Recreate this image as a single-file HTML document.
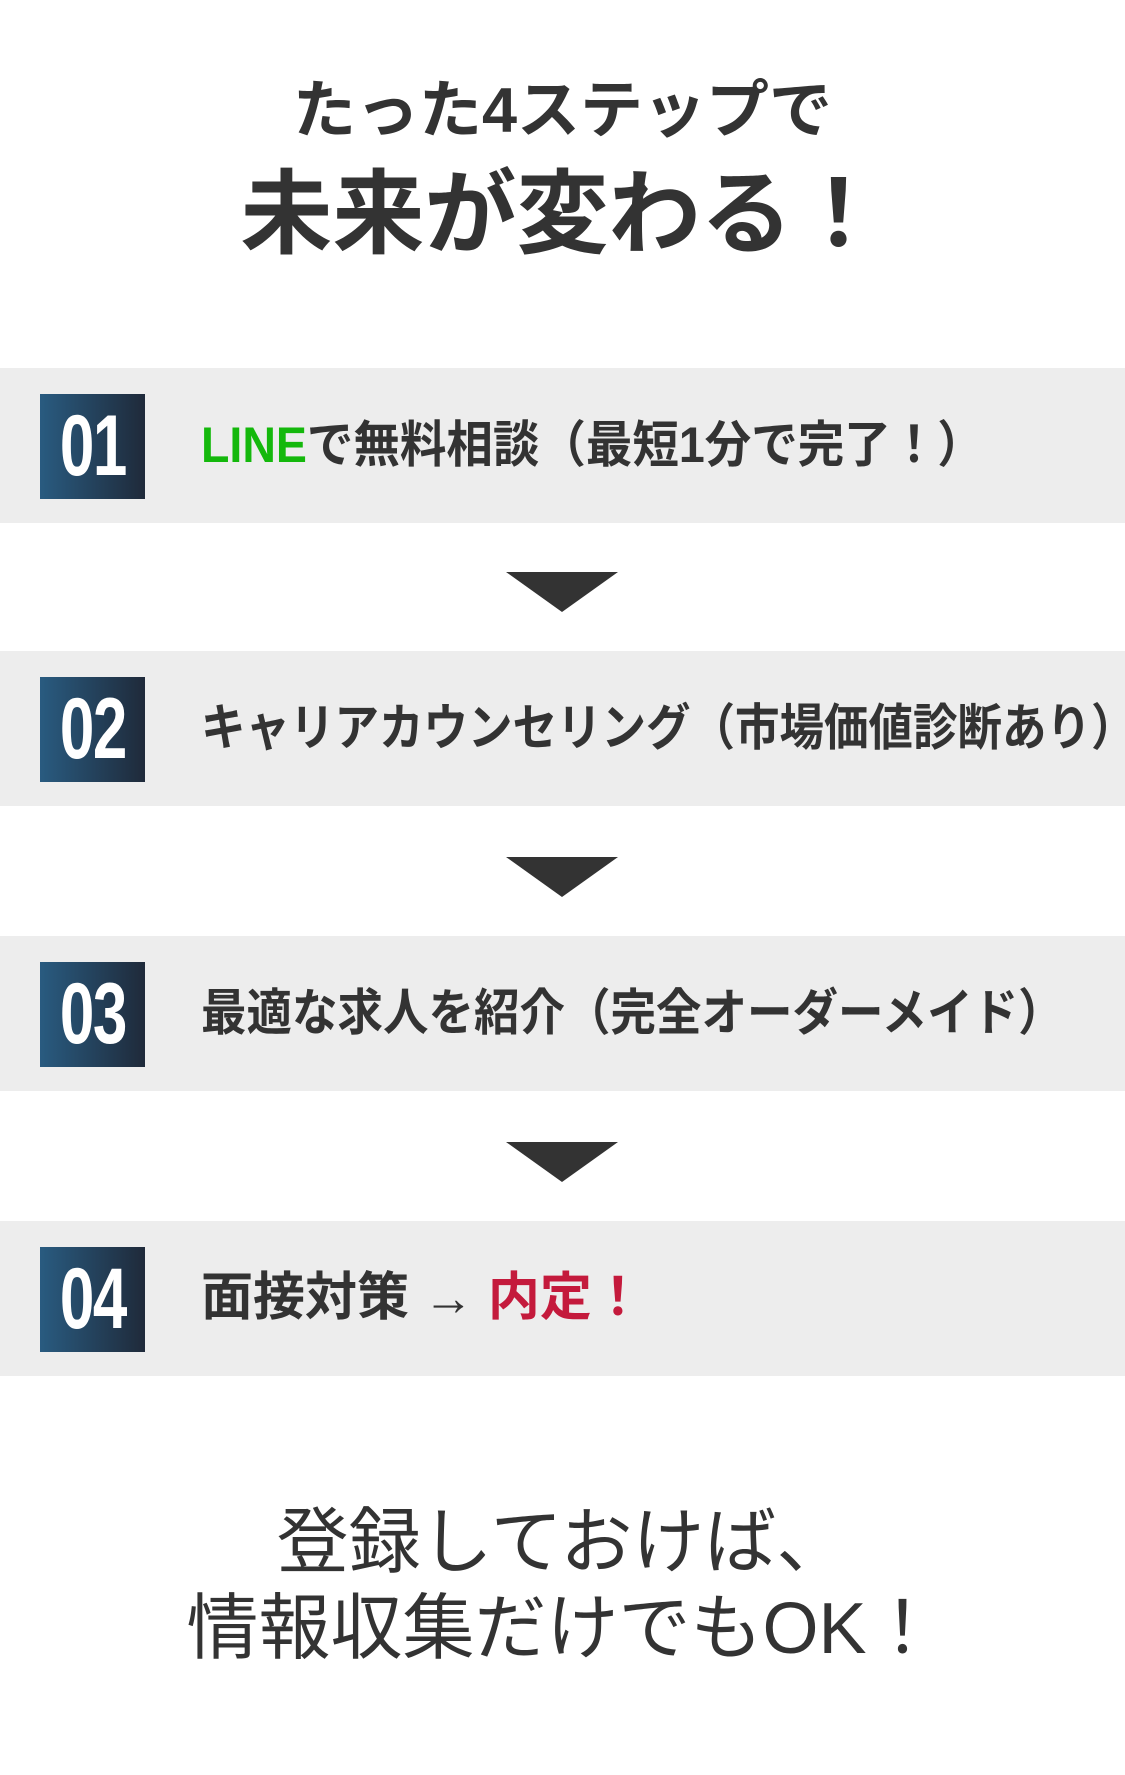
<!DOCTYPE html>
<html><head><meta charset="utf-8"><style>
body{margin:0;width:1125px;height:1775px;background:#fff;position:relative;overflow:hidden;font-family:"Liberation Sans","Noto Sans CJK JP",sans-serif;color:#333}
.t{position:absolute;left:0;width:1125px;text-align:center;font-weight:bold;white-space:nowrap}
.band{position:absolute;left:0;width:1125px;height:155px;background:#ededed}
.num{position:absolute;left:40px;top:26px;width:105px;height:105px;background:linear-gradient(90deg,#295b80,#1f2a3a);color:#fff;font-weight:bold;font-size:86px;line-height:105px;text-align:center}
.num span{display:inline-block;transform:scaleX(0.72);letter-spacing:-2px}
.txt{position:absolute;left:201px;top:0;line-height:155px;font-size:50px;font-weight:bold;white-space:nowrap;color:#333;transform-origin:left center}
.arr{position:absolute;left:506px;width:0;height:0;border-left:56px solid transparent;border-right:56px solid transparent;border-top:40px solid #333}
.b{position:absolute;left:0;width:1125px;text-align:center;font-size:72px;white-space:nowrap;color:#333}
</style></head><body>
<div class="t" style="top:76px;font-size:63px;line-height:70px">たった4ステップで</div>
<div class="t" style="top:165px;font-size:92px;line-height:100px">未来が変わる！</div>

<div class="band" style="top:368px"><div class="num"><span>01</span></div><div class="txt" style="transform:scaleX(0.93)"><span style="color:#14b80c">LINE</span>で無料相談（最短1分で完了！）</div></div>
<div class="arr" style="top:572px"></div>
<div class="band" style="top:651px"><div class="num"><span>02</span></div><div class="txt" style="transform:scaleX(0.89)">キャリアカウンセリング（市場価値診断あり）</div></div>
<div class="arr" style="top:857px"></div>
<div class="band" style="top:936px"><div class="num"><span>03</span></div><div class="txt" style="transform:scaleX(0.91)">最適な求人を紹介（完全オーダーメイド）</div></div>
<div class="arr" style="top:1142px"></div>
<div class="band" style="top:1221px"><div class="num"><span>04</span></div><div class="txt" style="font-size:52px">面接対策 <span style="font-weight:normal;font-size:50px">→</span> <span style="color:#c41a3c">内定！</span></div></div>

<div class="b" style="top:1500px;line-height:86px">登録しておけば、</div>
<div class="b" style="top:1586px;line-height:86px">情報収集だけでもOK！</div>
</body></html>
